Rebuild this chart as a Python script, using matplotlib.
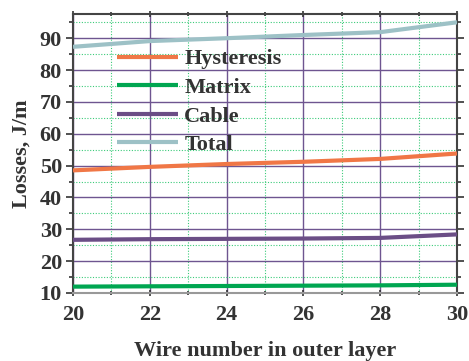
import matplotlib
matplotlib.use("Agg")
import matplotlib.pyplot as plt
from matplotlib.ticker import MultipleLocator

wires = [20, 22, 24, 26, 28, 30]
hysteresis = [48.5, 49.6, 50.5, 51.2, 52.1, 53.8]
matrix = [12.0, 12.1, 12.2, 12.3, 12.4, 12.6]
cable = [26.7, 26.9, 27.0, 27.1, 27.3, 28.4]
total = [87.3, 89.1, 90.0, 91.0, 91.9, 95.0]

labels = ["Hysteresis", "Matrix", "Cable", "Total"]
colors = ["#F07746", "#00A651", "#6B4E86", "#9DC1C6"]

plt.rcParams['font.family'] = ['Liberation Serif', 'DejaVu Serif']
plt.rcParams['font.weight'] = 'bold'

FS = 16
fig = plt.figure(figsize=(4.69, 3.61), dpi=100)
ax = fig.add_axes([73/469, 1 - 293/361, (457 - 73)/469, (293 - 14)/361])

for series, lab, c in zip([hysteresis, matrix, cable, total], labels, colors):
    ax.plot(wires, series, color=c, lw=3, label=lab, solid_capstyle='butt', zorder=3)

ax.set_xlim(20, 30)
ax.set_ylim(10, 97.6)
ax.xaxis.set_major_locator(MultipleLocator(2))
ax.xaxis.set_minor_locator(MultipleLocator(1))
ax.yaxis.set_major_locator(MultipleLocator(10))
ax.yaxis.set_minor_locator(MultipleLocator(5))
ax.grid(which='major', color='#6E5590', lw=1.0, ls='-', zorder=1)
ax.grid(which='minor', color='#3CCB7A', lw=0.8, ls=(0, (1, 1.5)), zorder=1)

ax.tick_params(which='both', direction='out', width=1.2, colors='#333333', labelsize=FS,
               top=True, right=True)
ax.tick_params(which='major', length=5)
ax.tick_params(which='minor', length=3)
ax.tick_params(axis='y', which='major', pad=3)
ax.tick_params(axis='x', which='major', pad=6)
ax.tick_params(axis='x', which='both', top=True, direction='inout')
for lbl in ax.get_xticklabels() + ax.get_yticklabels():
    lbl.set_fontweight('bold')
    lbl.set_color('#333333')
for s in ax.spines.values():
    s.set_color('#444444')
    s.set_linewidth(1.5)
ax.spines['bottom'].set_color('#999999')

ax.set_xlabel('Wire number in outer layer', fontsize=FS, fontweight='bold', color='#333333', labelpad=12)
ax.set_ylabel('Losses, J/m', fontsize=FS, fontweight='bold', color='#333333', labelpad=6)

leg = ax.legend(loc='upper left', bbox_to_anchor=(0.115, 0.875), frameon=False, fontsize=FS,
                handlelength=2.75, handletextpad=0.27, labelspacing=0.36, borderaxespad=0,
                borderpad=0)
for t in leg.get_texts():
    t.set_fontweight('bold')
    t.set_color('#333333')

fig.savefig('out.png', dpi=100)
